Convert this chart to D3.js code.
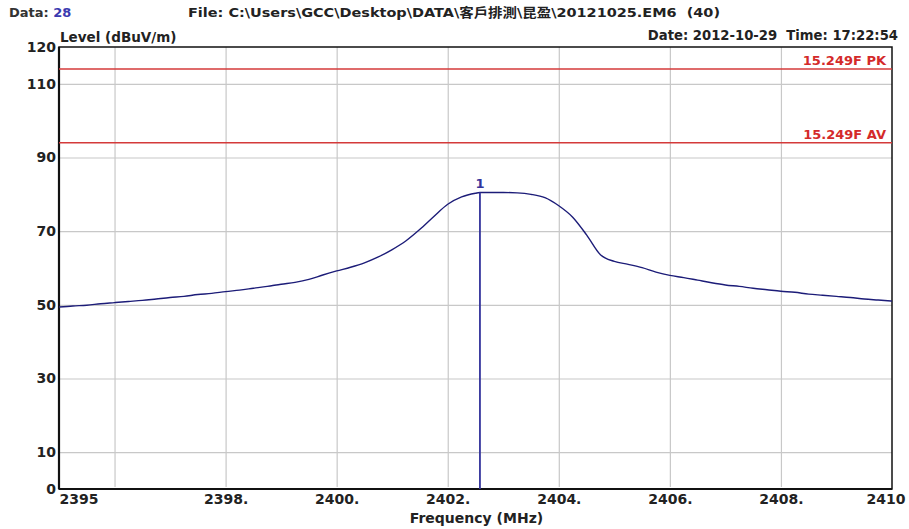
<!DOCTYPE html>
<html>
<head>
<meta charset="utf-8">
<script src="https://cdn.jsdelivr.net/npm/d3@7"></script>
<style>
  body { margin: 0; background: #fff; }
  text { font-family: "DejaVu Sans", "Noto Sans CJK TC", sans-serif; font-weight: bold; }
</style>
</head>
<body>
<script>
// Spectrum trace (MHz, dBuV/m)
const freqs = [2395.00, 2395.25, 2395.50, 2395.75, 2396.00, 2396.25, 2396.50, 2396.75,
  2397.00, 2397.25, 2397.50, 2397.75, 2398.00, 2398.25, 2398.50, 2398.75,
  2399.00, 2399.25, 2399.50, 2399.75, 2400.00, 2400.25, 2400.50, 2400.75,
  2401.00, 2401.25, 2401.50, 2401.75, 2402.00, 2402.25, 2402.50, 2402.58,
  2402.75, 2403.00, 2403.25, 2403.50, 2403.75, 2404.00, 2404.25, 2404.50,
  2404.75, 2405.00, 2405.25, 2405.50, 2405.75, 2406.00, 2406.25, 2406.50,
  2406.75, 2407.00, 2407.25, 2407.50, 2407.75, 2408.00, 2408.25, 2408.50,
  2408.75, 2409.00, 2409.25, 2409.50, 2409.75, 2410.00];
const levels = [49.4, 49.7, 49.9, 50.3, 50.6, 50.9, 51.2, 51.6,
  52.0, 52.3, 52.8, 53.1, 53.6, 54.0, 54.5, 55.0,
  55.6, 56.1, 56.9, 58.1, 59.2, 60.2, 61.4, 63.0,
  65.0, 67.4, 70.5, 74.0, 77.3, 79.3, 80.3, 80.5,
  80.5, 80.5, 80.4, 80.0, 79.1, 76.9, 73.8, 69.0,
  63.6, 61.8, 61.0, 60.1, 58.9, 58.0, 57.4, 56.7,
  56.0, 55.4, 55.0, 54.5, 54.1, 53.7, 53.4, 52.9,
  52.6, 52.3, 52.0, 51.6, 51.3, 51.0];

// Limit lines
const limitNames = ["15.249F PK", "15.249F AV"];
const limitValues = [114, 94];

// Marker
const markerFreq = 2402.58;
const markerLevel = 80.5;
const markerName = "1";

// Axes
const yTicks = [0, 10, 30, 50, 70, 90, 110, 120];
const yGrid = [10, 30, 50, 70, 90, 110];
const xTicks = [2395, 2398, 2400, 2402, 2404, 2406, 2408, 2410];
const xTickLabels = ["2395", "2398.", "2400.", "2402.", "2404.", "2406.", "2408.", "2410"];
const xGrid = [2396, 2398, 2400, 2402, 2404, 2406, 2408];

const W = 909, H = 529;
const LEFT = 59, RIGHT = 892, TOP = 47, BOTTOM = 489;

const svg = d3.select("body").append("svg")
  .attr("width", W)
  .attr("height", H);

const x = d3.scaleLinear().domain([2395, 2410]).range([LEFT, RIGHT]);
const y = d3.scaleLinear().domain([0, 120]).range([BOTTOM, TOP]);

// Grid
svg.append("g")
  .attr("transform", `translate(${LEFT},0)`)
  .call(d3.axisLeft(y).tickValues(yGrid).tickSize(-(RIGHT - LEFT)).tickFormat(""))
  .call(g => g.select(".domain").remove())
  .call(g => g.selectAll("line").attr("stroke", "#c8c8c8").attr("stroke-width", 1.2));
svg.append("g")
  .attr("transform", `translate(0,${BOTTOM - 2})`)
  .call(d3.axisBottom(x).tickValues(xGrid).tickSize(-(BOTTOM - TOP - 2)).tickFormat(""))
  .call(g => g.select(".domain").remove())
  .call(g => g.selectAll("line").attr("stroke", "#c8c8c8").attr("stroke-width", 1.2));

// Frame
svg.append("rect")
  .attr("x", LEFT).attr("y", TOP)
  .attr("width", RIGHT - LEFT).attr("height", BOTTOM - TOP)
  .attr("fill", "none").attr("stroke", "#111").attr("stroke-width", 1.5);
svg.append("line")
  .attr("x1", LEFT).attr("x2", LEFT).attr("y1", TOP).attr("y2", BOTTOM)
  .attr("stroke", "#111").attr("stroke-width", 2.2);
svg.append("line")
  .attr("x1", LEFT).attr("x2", RIGHT).attr("y1", BOTTOM).attr("y2", BOTTOM)
  .attr("stroke", "#111").attr("stroke-width", 2.2);

// Y tick labels
svg.append("g")
  .attr("transform", `translate(${LEFT},0)`)
  .call(d3.axisLeft(y).tickValues(yTicks).tickSize(0).tickPadding(3))
  .call(g => g.select(".domain").remove())
  .call(g => g.selectAll("text")
    .attr("font-size", 14)
    .attr("font-family", null)
    .attr("fill", "#222"));

// X tick labels
svg.append("g")
  .attr("transform", `translate(0,${BOTTOM})`)
  .call(d3.axisBottom(x).tickValues(xTicks).tickSize(0).tickPadding(5)
    .tickFormat((d, i) => xTickLabels[i]))
  .call(g => g.select(".domain").remove())
  .call(g => g.selectAll("text")
    .attr("font-size", 14)
    .attr("font-family", null)
    .attr("fill", "#222")
    .attr("text-anchor", (d, i) => i === 0 ? "start" : (i === xTicks.length - 1 ? "end" : "middle"))
    .attr("dx", (d, i) => i === xTicks.length - 1 ? 13 : 0));

// Limit lines
limitValues.forEach((v, i) => {
  svg.append("line")
    .attr("x1", LEFT).attr("x2", RIGHT)
    .attr("y1", y(v)).attr("y2", y(v))
    .attr("stroke", "#d43a3a").attr("stroke-width", 1.5);
  svg.append("text")
    .attr("x", RIGHT - 6).attr("y", y(v) - 4)
    .attr("text-anchor", "end")
    .attr("font-size", 13)
    .attr("fill", "#d42a2a")
    .text(limitNames[i]);
});

// Trace
const line = d3.line()
  .x((d, i) => x(freqs[i]))
  .y(d => y(d))
  .curve(d3.curveMonotoneX);
svg.append("path")
  .datum(levels)
  .attr("fill", "none")
  .attr("stroke", "#1c1c78")
  .attr("stroke-width", 1.4)
  .attr("d", line);

// Marker
svg.append("line")
  .attr("x1", x(markerFreq)).attr("x2", x(markerFreq))
  .attr("y1", y(markerLevel)).attr("y2", BOTTOM)
  .attr("stroke", "#34349c").attr("stroke-width", 1.8);
svg.append("text")
  .attr("x", x(markerFreq)).attr("y", y(markerLevel) - 4)
  .attr("text-anchor", "middle")
  .attr("font-size", 13)
  .attr("font-weight", "normal")
  .attr("fill", "#34349c")
  .text(markerName);

// Header texts
const dataText = svg.append("text").attr("x", 9).attr("y", 17).attr("font-size", 13).attr("fill", "#333");
dataText.append("tspan").text("Data: ");
dataText.append("tspan").attr("fill", "#3a3ab0").text("28");

svg.append("text")
  .attr("x", 188).attr("y", 17)
  .attr("font-size", 13)
  .attr("fill", "#222")
  .attr("textLength", 532)
  .attr("lengthAdjust", "spacingAndGlyphs")
  .style("white-space", "pre")
  .text("File: C:\\Users\\GCC\\Desktop\\DATA\\客戶排測\\昆盈\\20121025.EM6  (40)");

svg.append("text")
  .attr("x", 898).attr("y", 40)
  .attr("text-anchor", "end")
  .attr("font-size", 13.2)
  .attr("fill", "#222")
  .style("white-space", "pre")
  .text("Date: 2012-10-29  Time: 17:22:54");

svg.append("text")
  .attr("x", LEFT + 1).attr("y", 42)
  .attr("font-size", 13.5)
  .attr("font-weight", "normal")
  .attr("fill", "#222")
  .text("Level (dBuV/m)");

svg.append("text")
  .attr("x", (LEFT + RIGHT) / 2 + 1).attr("y", 523)
  .attr("text-anchor", "middle")
  .attr("font-size", 14)
  .attr("fill", "#222")
  .text("Frequency (MHz)");
</script>
</body>
</html>
